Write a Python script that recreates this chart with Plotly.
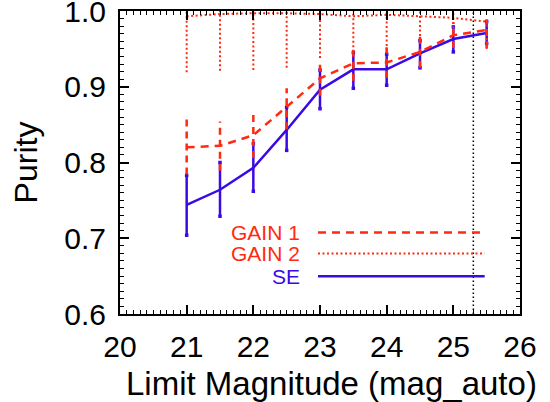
import plotly.graph_objects as go

# ---- data ----
mag = [21.0, 21.5, 22.0, 22.5, 23.0, 23.5, 24.0, 24.5, 25.0, 25.5]

se = [0.744, 0.764, 0.793, 0.843, 0.896, 0.923, 0.923, 0.944, 0.963, 0.971]
se_lo = [0.704, 0.729, 0.762, 0.816, 0.871, 0.898, 0.902, 0.925, 0.946, 0.957]
se_hi = [0.783, 0.800, 0.825, 0.873, 0.922, 0.945, 0.943, 0.961, 0.979, 0.986]

gain1 = [0.820, 0.822, 0.836, 0.874, 0.911, 0.931, 0.932, 0.946, 0.968, 0.975]
gain1_lo = [0.784, 0.789, 0.806, 0.844, 0.888, 0.908, 0.912, 0.925, 0.951, 0.951]
gain1_hi = [0.857, 0.854, 0.865, 0.898, 0.934, 0.954, 0.952, 0.967, 0.985, 0.989]

gain2 = [0.993, 0.996, 0.997, 0.997, 0.996, 0.993, 0.995, 0.993, 0.991, 0.986]
gain2_lo = [0.919, 0.921, 0.922, 0.925, 0.938, 0.952, 0.948, 0.967, 0.977, 0.950]
gain2_hi = [1.000, 1.000, 1.000, 1.000, 1.000, 1.000, 1.000, 1.000, 1.000, 0.990]

limit_mag = 25.3

legend_labels = ["GAIN 1", "GAIN 2", "SE"]
legend_y = [0.7075, 0.680, 0.650]
legend_x = [22.97, 25.47]
legend_text_x = 22.725

x_ticks = [20, 21, 22, 23, 24, 25, 26]
y_ticks = [0.6, 0.7, 0.8, 0.9, 1.0]

x_title = "Limit Magnitude (mag_auto)"
y_title = "Purity"

BLUE = "#3a0ae6"
RED = "#ff2a10"
FONT = "Liberation Sans, Arial, Helvetica, sans-serif"


def bar_segments(xs, lo, hi):
    bx, by = [], []
    for x, l, h in zip(xs, lo, hi):
        bx += [x, x, None]
        by += [l, h, None]
    return bx, by


fig = go.Figure()

# vertical limit line
fig.add_trace(go.Scatter(x=[limit_mag, limit_mag], y=[0.6, 1.0], mode="lines",
                         line=dict(color="black", width=1.5, dash="1.5px,2.5px"),
                         showlegend=False, hoverinfo="skip"))

# SE (solid blue) with error bars
bx, by = bar_segments(mag, se_lo, se_hi)
fig.add_trace(go.Scatter(x=bx, y=by, mode="lines", line=dict(color=BLUE, width=2.5),
                         showlegend=False, hoverinfo="skip"))
fig.add_trace(go.Scatter(x=mag + mag, y=se_lo + se_hi, mode="markers",
                         marker=dict(symbol="square", size=3.5, color=BLUE),
                         showlegend=False, hoverinfo="skip"))
fig.add_trace(go.Scatter(x=mag, y=se, mode="lines", name="SE",
                         line=dict(color=BLUE, width=2.5), showlegend=False))

# GAIN 1 (dashed red)
bx, by = bar_segments(mag, gain1_lo, gain1_hi)
fig.add_trace(go.Scatter(x=bx, y=by, mode="lines",
                         line=dict(color=RED, width=2.5, dash="7px,5px"),
                         showlegend=False, hoverinfo="skip"))
fig.add_trace(go.Scatter(x=mag, y=gain1, mode="lines", name="GAIN 1",
                         line=dict(color=RED, width=2.5, dash="8px,6px"), showlegend=False))

# GAIN 2 (dotted red)
bx, by = bar_segments(mag, gain2_lo, gain2_hi)
fig.add_trace(go.Scatter(x=bx, y=by, mode="lines",
                         line=dict(color=RED, width=2, dash="2px,2.5px"),
                         showlegend=False, hoverinfo="skip"))
fig.add_trace(go.Scatter(x=mag, y=gain2, mode="lines", name="GAIN 2",
                         line=dict(color=RED, width=2, dash="2px,2.5px"), showlegend=False))

# in-plot legend
styles = [dict(color=RED, width=2.5, dash="8px,6px"),
          dict(color=RED, width=2, dash="2px,2.5px"),
          dict(color=BLUE, width=2.5)]
colors = [RED, RED, BLUE]
for lab, yy, st, c in zip(legend_labels, legend_y, styles, colors):
    fig.add_trace(go.Scatter(x=legend_x, y=[yy, yy], mode="lines", line=st,
                             showlegend=False, hoverinfo="skip"))
    fig.add_annotation(x=legend_text_x, y=yy, text=lab, showarrow=False,
                       xanchor="right", yanchor="middle",
                       font=dict(family=FONT, size=21, color=c))

# x-axis title (placed as in the reference, slightly right of centre)
fig.add_annotation(x=0.5275, y=-0.231, xref="paper", yref="paper", text=x_title,
                   showarrow=False, xanchor="center", yanchor="middle",
                   font=dict(family=FONT, size=33, color="black"))

axis_common = dict(showline=True, linecolor="black", linewidth=2, mirror="allticks",
                   ticks="inside", ticklen=9, tickwidth=1.5, tickcolor="black",
                   showgrid=False, zeroline=False, automargin=False,
                   ticklabeloverflow="allow",
                   tickfont=dict(family=FONT, size=30, color="black"))

fig.update_xaxes(range=[20, 26], tickvals=x_ticks, ticktext=[str(v) for v in x_ticks],
                 minor=dict(dtick=0.1, ticks="inside", ticklen=4, tickwidth=1, tickcolor="black"),
                 ticklabelstandoff=5,
                 **axis_common)
fig.update_yaxes(range=[0.6, 1.0], tickvals=y_ticks, ticktext=["%.1f" % v for v in y_ticks],
                 minor=dict(dtick=0.01, ticks="inside", ticklen=4, tickwidth=1, tickcolor="black"),
                 ticklabelstandoff=6,
                 title=dict(text=y_title, standoff=17,
                            font=dict(family=FONT, size=32, color="black")),
                 **axis_common)

fig.update_layout(width=550, height=402, margin=dict(l=120, r=30, t=11, b=88),
                  plot_bgcolor="white", paper_bgcolor="white", showlegend=False)

fig.write_html("out.html", config={"displayModeBar": False},
               post_script="document.body.style.margin='0';")
